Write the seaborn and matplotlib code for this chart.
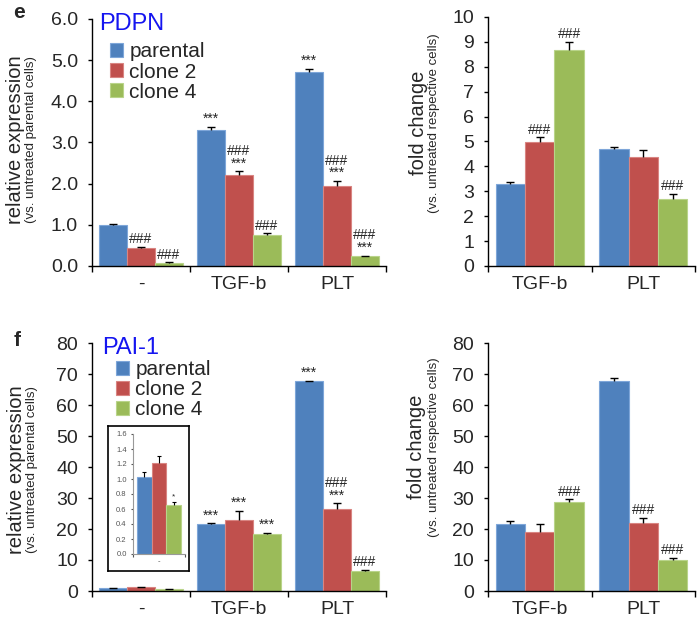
import numpy as np
import pandas as pd
import matplotlib
matplotlib.use("Agg")
import matplotlib.pyplot as plt
from matplotlib.container import BarContainer
import seaborn as sns

# ---------------- data ----------------
series = ["parental", "clone 2", "clone 4"]
cats_rel = ["-", "TGF-b", "PLT"]
cats_fold = ["TGF-b", "PLT"]

# PDPN relative expression
pdpn_rel_parental = [1.00, 3.31, 4.71]
pdpn_rel_clone2 = [0.44, 2.21, 1.94]
pdpn_rel_clone4 = [0.08, 0.76, 0.235]
pdpn_rel_err_parental = [0.03, 0.07, 0.08]
pdpn_rel_err_clone2 = [0.03, 0.09, 0.13]
pdpn_rel_err_clone4 = [0.01, 0.03, 0.02]
pdpn_rel_sig_parental = ["", "***", "***"]
pdpn_rel_sig_clone2 = ["###", "###\n***", "###\n***"]
pdpn_rel_sig_clone4 = ["###", "###", "###\n***"]

# PDPN fold change
pdpn_fold_parental = [3.29, 4.68]
pdpn_fold_clone2 = [4.97, 4.36]
pdpn_fold_clone4 = [8.68, 2.71]
pdpn_fold_err_parental = [0.08, 0.11]
pdpn_fold_err_clone2 = [0.20, 0.30]
pdpn_fold_err_clone4 = [0.31, 0.18]
pdpn_fold_sig_parental = ["", ""]
pdpn_fold_sig_clone2 = ["###", ""]
pdpn_fold_sig_clone4 = ["###", "###"]

# PAI-1 relative expression
pai_rel_parental = [1.03, 21.5, 67.6]
pai_rel_clone2 = [1.22, 22.9, 26.4]
pai_rel_clone4 = [0.65, 18.5, 6.6]
pai_rel_err_parental = [0.07, 0.3, 0.3]
pai_rel_err_clone2 = [0.09, 3.0, 1.9]
pai_rel_err_clone4 = [0.05, 0.3, 0.3]
pai_rel_sig_parental = ["", "***", "***"]
pai_rel_sig_clone2 = ["", "***", "###\n***"]
pai_rel_sig_clone4 = ["", "***", "###"]
pai_inset_sig_parental = [""]
pai_inset_sig_clone2 = [""]
pai_inset_sig_clone4 = ["*"]

# PAI-1 fold change
pai_fold_parental = [21.5, 67.6]
pai_fold_clone2 = [18.9, 21.9]
pai_fold_clone4 = [28.8, 10.0]
pai_fold_err_parental = [1.0, 1.2]
pai_fold_err_clone2 = [2.6, 1.6]
pai_fold_err_clone4 = [0.8, 0.7]
pai_fold_sig_parental = ["", ""]
pai_fold_sig_clone2 = ["", "###"]
pai_fold_sig_clone4 = ["###", "###"]

colors = ["#4F81BD", "#C0504D", "#9BBB59"]
edge_colors = ["#7EA6D9", "#D98582", "#B9D48A"]

# ---------------- style ----------------
sns.set_style("white")
plt.rcParams["font.family"] = ["Liberation Sans", "DejaVu Sans"]

W, H = 697, 623
fig = plt.figure(figsize=(W / 100, H / 100), dpi=100)


def px_axes(l, t, r, b, **kw):
    return fig.add_axes([l / W, 1 - b / H, (r - l) / W, (b - t) / H], **kw)


def bar_containers(ax):
    return [c for c in ax.containers if isinstance(c, BarContainer)]


def draw_panel(ax, cats, vals, errs, sigs, ylim, yticks, fmt,
               tick_fs=14, ann_fs=10, cap_ms=6, lw=1.0, tick_len=3, pad=7):
    rows = []
    for s, v in zip(series, vals):
        for c, x in zip(cats, v):
            rows.append({"condition": c, "series": s, "value": x})
    df = pd.DataFrame(rows)
    sns.barplot(data=df, x="condition", y="value", hue="series",
                order=cats, hue_order=series,
                palette=dict(zip(series, colors)), width=0.85,
                errorbar=None, saturation=1, legend=False, ax=ax)
    conts = bar_containers(ax)
    for cont, ec, v, e, sg in zip(conts, edge_colors, vals, errs, sigs):
        xs = []
        for p in cont:
            p.set_edgecolor(ec)
            p.set_linewidth(0.8)
            xs.append(p.get_x() + p.get_width() / 2)
        xs = np.array(xs)
        v = np.array(v, dtype=float)
        e = np.array(e, dtype=float)
        ax.errorbar(xs, v, yerr=[np.zeros_like(e), e], fmt="none",
                    ecolor="black", elinewidth=lw, capsize=0, zorder=3)
        ax.plot(xs, v + e, ls="none", marker="_", ms=cap_ms, mew=lw,
                color="black", zorder=3)
        for x, top, t in zip(xs, v + e, sg):
            if t:
                ax.annotate(t, (x, top), xytext=(0, 0.5),
                            textcoords="offset points", ha="center",
                            va="bottom", fontsize=ann_fs, linespacing=0.85)
    ax.set_xlim(-0.5, len(cats) - 0.5)
    ax.set_ylim(*ylim)
    ax.set_yticks(yticks)
    ax.set_yticklabels([fmt.format(t) for t in yticks])
    ax.set_xticks(range(len(cats)))
    ax.set_xticklabels(cats)
    ax.set_xticks(np.arange(-0.5, len(cats), 1.0), minor=True)
    ax.tick_params(axis="x", which="major", length=0, pad=pad,
                   labelsize=tick_fs)
    ax.tick_params(axis="x", which="minor", length=tick_len + 1,
                   width=lw, direction="out", color="black", bottom=True)
    ax.tick_params(axis="y", which="major", length=tick_len, width=lw,
                   direction="out", color="black", left=True, pad=pad,
                   labelsize=tick_fs)
    ax.set_xlabel("")
    ax.set_ylabel("")
    for sp in ["top", "right"]:
        ax.spines[sp].set_visible(False)
    for sp in ["left", "bottom"]:
        ax.spines[sp].set_color("black")
        ax.spines[sp].set_linewidth(lw)
    ax.set_facecolor("none")


def ylab(x, y, big, small, big_fs=14.5, small_fs=9.5, dx=15):
    fig.text(x / W, 1 - y / H, big, rotation=90, ha="center", va="center",
             fontsize=big_fs)
    fig.text((x + dx) / W, 1 - y / H, small, rotation=90, ha="center",
             va="center", fontsize=small_fs)


def legend(ax, anchor):
    handles = [cont.patches[0] for cont in bar_containers(ax)]
    ax.legend(handles, series, loc="upper left", bbox_to_anchor=anchor,
              frameon=False, fontsize=15, handlelength=0.65,
              handleheight=0.65, handletextpad=0.3, labelspacing=0.05,
              borderaxespad=0, borderpad=0)


# ---------- panel e, left ----------
ax1 = px_axes(92, 19, 386, 266)
draw_panel(ax1, cats_rel,
           [pdpn_rel_parental, pdpn_rel_clone2, pdpn_rel_clone4],
           [pdpn_rel_err_parental, pdpn_rel_err_clone2, pdpn_rel_err_clone4],
           [pdpn_rel_sig_parental, pdpn_rel_sig_clone2, pdpn_rel_sig_clone4],
           (0, 6.0), np.arange(0, 6.01, 1.0), "{:.1f}")
ax1.text(0.025, 0.98, "PDPN", transform=ax1.transAxes, ha="left",
         va="center", fontsize=17, color="#1515F0")
legend(ax1, (0.06, 0.905))
ylab(16, 140, "relative expression", "(vs. untreated parental cells)")

# ---------- panel e, right ----------
ax2 = px_axes(488, 17, 695, 266)
draw_panel(ax2, cats_fold,
           [pdpn_fold_parental, pdpn_fold_clone2, pdpn_fold_clone4],
           [pdpn_fold_err_parental, pdpn_fold_err_clone2, pdpn_fold_err_clone4],
           [pdpn_fold_sig_parental, pdpn_fold_sig_clone2, pdpn_fold_sig_clone4],
           (0, 10), np.arange(0, 10.01, 1), "{:.0f}")
ylab(418, 123, "fold change", "(vs. untreated respective cells)", dx=16)

# ---------- panel f, left ----------
ax3 = px_axes(92, 343, 386, 591)
draw_panel(ax3, cats_rel,
           [pai_rel_parental, pai_rel_clone2, pai_rel_clone4],
           [pai_rel_err_parental, pai_rel_err_clone2, pai_rel_err_clone4],
           [pai_rel_sig_parental, pai_rel_sig_clone2, pai_rel_sig_clone4],
           (0, 80), np.arange(0, 80.1, 10), "{:.0f}")
ax3.text(0.035, 0.98, "PAI-1", transform=ax3.transAxes, ha="left",
         va="center", fontsize=17, color="#1515F0")
legend(ax3, (0.08, 0.93))
ylab(17, 470, "relative expression", "(vs. untreated parental cells)")

# inset box and inset axes
box = px_axes(108, 426, 189, 571)
box.set_xticks([])
box.set_yticks([])
box.set_facecolor("white")
for sp in box.spines.values():
    sp.set_color("black")
    sp.set_linewidth(1.2)
axi = px_axes(133, 434, 185, 554)
draw_panel(axi, ["-"],
           [pai_rel_parental[:1], pai_rel_clone2[:1], pai_rel_clone4[:1]],
           [pai_rel_err_parental[:1], pai_rel_err_clone2[:1], pai_rel_err_clone4[:1]],
           [pai_inset_sig_parental, pai_inset_sig_clone2, pai_inset_sig_clone4],
           (0, 1.6), np.arange(0, 1.61, 0.2), "{:.1f}",
           tick_fs=5.5, ann_fs=6, cap_ms=3, lw=0.8, tick_len=1.5, pad=3)
axi.spines["left"].set_color("#999999")
axi.spines["bottom"].set_color("#999999")
axi.tick_params(colors="#555555", which="both")

# ---------- panel f, right ----------
ax4 = px_axes(488, 343, 695, 591)
draw_panel(ax4, cats_fold,
           [pai_fold_parental, pai_fold_clone2, pai_fold_clone4],
           [pai_fold_err_parental, pai_fold_err_clone2, pai_fold_err_clone4],
           [pai_fold_sig_parental, pai_fold_sig_clone2, pai_fold_sig_clone4],
           (0, 80), np.arange(0, 80.1, 10), "{:.0f}")
ylab(417, 447, "fold change", "(vs. untreated respective cells)", dx=17)

# panel letters
fig.text(13 / W, 1 - 13 / H, "e", fontsize=15, fontweight="bold",
         ha="left", va="center")
fig.text(14 / W, 1 - 340 / H, "f", fontsize=15, fontweight="bold",
         ha="left", va="center")

fig.savefig("out.png", dpi=100)
